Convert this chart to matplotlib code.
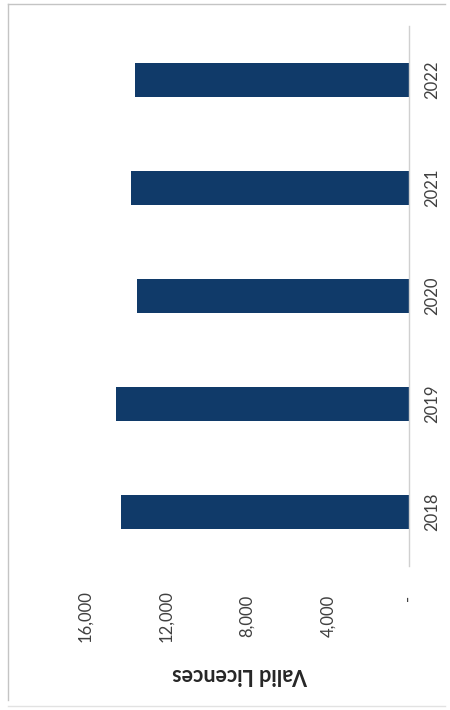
import matplotlib.pyplot as plt
from matplotlib.lines import Line2D
from matplotlib.ticker import FuncFormatter


years = ["2018", "2019", "2020", "2021", "2022"]
licences = [14220, 14470, 13430, 13730, 13530]
value_ticks = [0, 4000, 8000, 12000, 16000]

BAR = "#103a69"
TEXT = "#404040"

plt.rcParams["font.family"] = ["Lato", "DejaVu Sans"]


def thousands(v, pos):
    # accounting style: zero shown as a dash padded like the other labels
    return " " * 8 + "-" if v == 0 else f"{v:,.0f}"


fig = plt.figure(figsize=(4.5, 7.1), dpi=100)
fig.patch.set_facecolor("white")

# chart sits sideways: categories run up the right edge, values grow to the left
ax = fig.add_axes([85 / 450, 1 - 566 / 710, 324 / 450, 540 / 710])
pos = list(range(len(years)))
ax.barh(pos, licences, height=0.32, color=BAR)

ax.set_xlim(16000, 0)
ax.set_ylim(-0.5, len(years) - 0.5)
ax.set_xticks(value_ticks)
ax.xaxis.set_major_formatter(FuncFormatter(thousands))
ax.set_yticks(pos)
ax.set_yticklabels(years)

for side in ["top", "left", "bottom"]:
    ax.spines[side].set_visible(False)
ax.spines["right"].set_color("#d0d0d0")
ax.spines["right"].set_linewidth(1.0)

ax.yaxis.tick_right()
ax.tick_params(axis="y", length=0, pad=17, labelsize=12, labelcolor=TEXT)
ax.tick_params(axis="x", length=0, pad=36, labelsize=12, labelcolor=TEXT)
for lab in ax.get_yticklabels():
    lab.set_rotation(90)
    lab.set_ha("center")
    lab.set_va("center")
for lab in ax.get_xticklabels():
    lab.set_rotation(90)
    lab.set_ha("center")
    lab.set_va("center")

fig.text(240 / 450, 1 - 675 / 710, "Valid Licences", rotation=180,
         ha="center", va="center", fontsize=15.5, fontweight="bold", color="#262626")

# faint chart-area border
edge = "#c4c4c4"
fig.add_artist(Line2D([8 / 450, 8 / 450], [1 - 4 / 710, 1 - 700 / 710], color=edge, lw=1.0))
fig.add_artist(Line2D([8 / 450, 445 / 450], [1 - 4 / 710, 1 - 4 / 710], color=edge, lw=1.0))
fig.add_artist(Line2D([8 / 450, 445 / 450], [1 - 706 / 710, 1 - 706 / 710], color="#e2e2e2", lw=1.0))

fig.savefig("out.png", dpi=100)
